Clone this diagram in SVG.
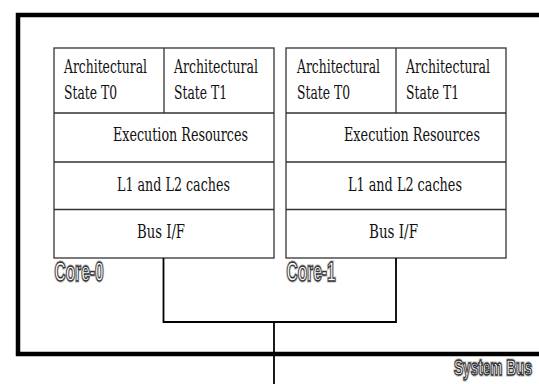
<svg xmlns="http://www.w3.org/2000/svg" width="539" height="384" viewBox="0 0 539 384">
<style>
.box{fill:#fff;stroke:#333;stroke-width:1.3}
.div{stroke:#333;stroke-width:1.3;fill:none}
.t{font-family:"DejaVu Serif","Liberation Serif",serif;font-size:18px;fill:#111}
.frame{stroke:#000;stroke-width:4.5;fill:none}
.conn{stroke:#000;stroke-width:1.8;fill:none}
.lbl{font-family:"Liberation Sans",Arial,sans-serif;font-weight:bold;font-size:28px;fill:#fff;stroke:#333;stroke-width:1.4}
.halo{font-family:"Liberation Sans",Arial,sans-serif;font-weight:bold;font-size:28px;fill:#ccc;stroke:#ccc;stroke-width:3.5}
.sb{font-size:22px}
</style>
<rect width="539" height="384" fill="#fff"/>
<g id="frame">
<path class="frame" d="M539,15 H18 V354 H539"/>
</g>
<g id="core0">
<rect class="box" x="54" y="48" width="220" height="210"/>
<path class="div" d="M164,48 V113 M54,113 H274 M54,162 H274 M54,209.5 H274"/>
<text class="t" x="64" y="73" textLength="83" lengthAdjust="spacingAndGlyphs">Architectural</text>
<text class="t" x="64" y="99" textLength="53" lengthAdjust="spacingAndGlyphs">State T0</text>
<text class="t" x="174" y="73" textLength="84" lengthAdjust="spacingAndGlyphs">Architectural</text>
<text class="t" x="174" y="99" textLength="53" lengthAdjust="spacingAndGlyphs">State T1</text>
<text class="t" x="113" y="141" textLength="135" lengthAdjust="spacingAndGlyphs">Execution Resources</text>
<text class="t" x="117" y="191" textLength="113" lengthAdjust="spacingAndGlyphs">L1 and L2 caches</text>
<text class="t" x="137" y="238" textLength="48" lengthAdjust="spacingAndGlyphs">Bus I/F</text>
<text class="halo" x="54.5" y="280.5" textLength="49" lengthAdjust="spacingAndGlyphs">Core-0</text>
<text class="lbl" x="54.5" y="280.5" textLength="49" lengthAdjust="spacingAndGlyphs">Core-0</text>
</g>
<g id="core1">
<rect class="box" x="286" y="48" width="220" height="210"/>
<path class="div" d="M396,48 V113 M286,113 H506 M286,162 H506 M286,209.5 H506"/>
<text class="t" x="297" y="73" textLength="83" lengthAdjust="spacingAndGlyphs">Architectural</text>
<text class="t" x="297" y="99" textLength="53" lengthAdjust="spacingAndGlyphs">State T0</text>
<text class="t" x="406" y="73" textLength="84" lengthAdjust="spacingAndGlyphs">Architectural</text>
<text class="t" x="406" y="99" textLength="53" lengthAdjust="spacingAndGlyphs">State T1</text>
<text class="t" x="344" y="141" textLength="136" lengthAdjust="spacingAndGlyphs">Execution Resources</text>
<text class="t" x="348" y="191" textLength="114" lengthAdjust="spacingAndGlyphs">L1 and L2 caches</text>
<text class="t" x="369" y="238" textLength="49" lengthAdjust="spacingAndGlyphs">Bus I/F</text>
<text class="halo" x="286.5" y="280.5" textLength="49" lengthAdjust="spacingAndGlyphs">Core-1</text>
<text class="lbl" x="286.5" y="280.5" textLength="49" lengthAdjust="spacingAndGlyphs">Core-1</text>
</g>
<g id="system-bus">
<text class="halo sb" x="454" y="375" textLength="78" lengthAdjust="spacingAndGlyphs">System Bus</text>
<text class="lbl sb" x="454" y="375" textLength="78" lengthAdjust="spacingAndGlyphs">System Bus</text>
</g>
<g id="connectors">
<path class="conn" d="M163.5,258 V322 H396 V258"/>
<path class="conn" d="M274,322 V384"/>
</g>
</svg>
